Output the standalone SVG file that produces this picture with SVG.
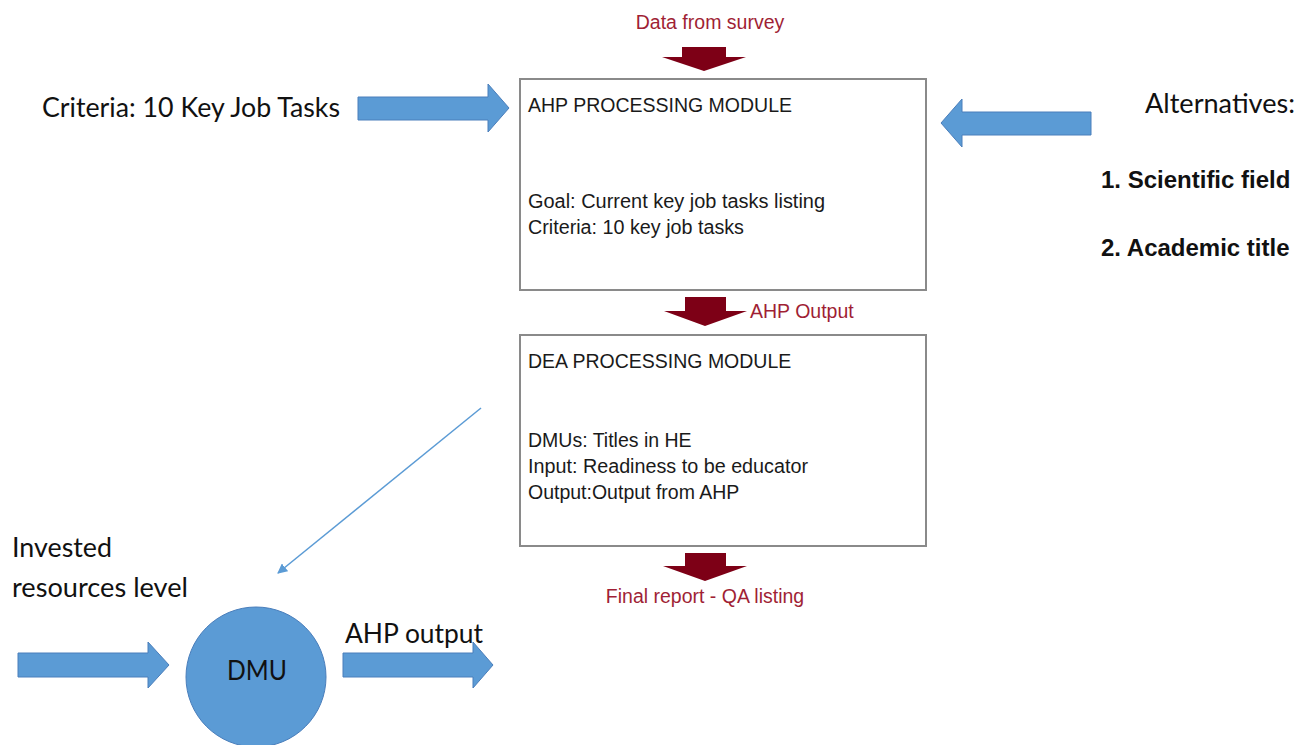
<svg xmlns="http://www.w3.org/2000/svg" width="1301" height="745" viewBox="0 0 1301 745">
<style>
.box{fill:#fff;stroke:#8a8a8a;stroke-width:2}
.bt{font-family:"Liberation Sans",Arial,sans-serif;font-size:19.5px;fill:#1a1a1a}
.rt{font-family:"Liberation Sans",Arial,sans-serif;font-size:19.5px;fill:#a01f35}
.ct{font-family:Lato,"Open Sans",sans-serif;font-size:27px;fill:#111}
.bb{font-family:"Liberation Sans",Arial,sans-serif;font-size:24px;font-weight:bold;fill:#111}
.red{fill:#7d0016}
.blue{fill:#5b9bd5;stroke:#4a7ebb;stroke-width:1}
</style>
<defs>
<marker id="ah" markerWidth="10" markerHeight="10" refX="9" refY="5" orient="auto" markerUnits="userSpaceOnUse">
<path d="M0,0 L10,5 L0,10 z" fill="#5b9bd5"/>
</marker>
</defs>
<g id="ahp-module">
<rect class="box" x="520" y="79" width="406" height="211"/>
<text class="bt" x="528" y="112">AHP PROCESSING MODULE</text>
<text class="bt" x="528" y="208" textLength="297" lengthAdjust="spacingAndGlyphs">Goal: Current key job tasks listing</text>
<text class="bt" x="528" y="234" textLength="216" lengthAdjust="spacingAndGlyphs">Criteria: 10 key job tasks</text>
</g>
<g id="dea-module">
<rect class="box" x="520" y="335" width="406" height="211"/>
<text class="bt" x="528" y="368">DEA PROCESSING MODULE</text>
<text class="bt" x="528" y="447">DMUs: Titles in HE</text>
<text class="bt" x="528" y="473" textLength="280" lengthAdjust="spacingAndGlyphs">Input: Readiness to be educator</text>
<text class="bt" x="528" y="499">Output:Output from AHP</text>
</g>
<g id="data-survey">
<text class="rt" x="710" y="29" text-anchor="middle">Data from survey</text>
</g>
<g id="criteria">
<text class="ct" x="42" y="117" textLength="298" lengthAdjust="spacingAndGlyphs">Criteria: 10 Key Job Tasks</text>
</g>
<g id="alternatives">
<text class="ct" x="1145" y="113" textLength="150" lengthAdjust="spacingAndGlyphs">Alternatives:</text>
<text class="bb" x="1101" y="188">1. Scientific field</text>
<text class="bb" x="1101" y="256">2. Academic title</text>
</g>
<g id="ahp-output-label">
<text class="rt" x="750" y="318">AHP Output</text>
</g>
<g id="final-report">
<text class="rt" x="705" y="603" text-anchor="middle">Final report - QA listing</text>
</g>
<g id="invested">
<text class="ct" x="12" y="557" textLength="100" lengthAdjust="spacingAndGlyphs">Invested</text>
<text class="ct" x="12" y="597" textLength="176" lengthAdjust="spacingAndGlyphs">resources level</text>
</g>
<g id="dmu">
<circle cx="256" cy="677" r="70" fill="#5b9bd5" stroke="#4a7ebb" stroke-width="1"/>
<text class="ct" x="257" y="680" text-anchor="middle" textLength="60" lengthAdjust="spacingAndGlyphs">DMU</text>
</g>
<g id="dmu-output-label">
<text class="ct" x="345" y="643" textLength="138" lengthAdjust="spacingAndGlyphs">AHP output</text>
</g>
<g id="connectors">
<polygon class="red" points="682,47 726,47 726,57 746,57 704,71 662,57 682,57"/>
<polygon class="red" points="685,297 726,297 726,311 747,311 705,326 664,311 685,311"/>
<polygon class="red" points="685,553 726,553 726,566 747,566 705,581 663,566 685,566"/>
<polygon class="blue" points="358,97 488,97 488,84 509,108 488,132 488,120 358,120"/>
<polygon class="blue" points="1091,112 962,112 962,99 941,123 962,147 962,135 1091,135"/>
<polygon class="blue" points="18,653 148,653 148,642 169,665 148,688 148,677 18,677"/>
<polygon class="blue" points="343,653 473,653 473,642 493,665 473,688 473,677 343,677"/>
<line x1="481" y1="408" x2="278" y2="573" stroke="#5b9bd5" stroke-width="1.5" marker-end="url(#ah)"/>
</g>
</svg>
